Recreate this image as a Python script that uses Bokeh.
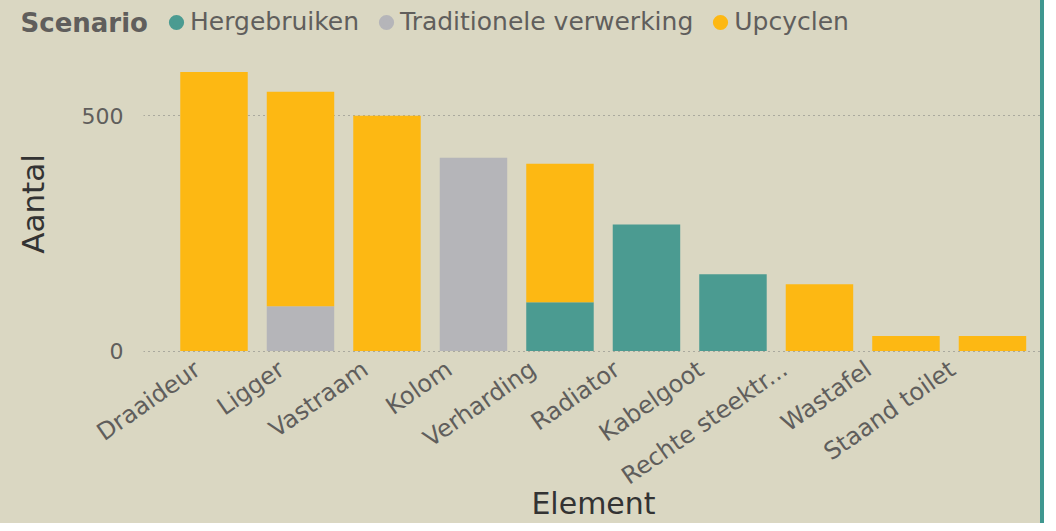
from bokeh.plotting import figure
from bokeh.layouts import column
from bokeh.models import (ColumnDataSource, Range1d, FixedTicker, Legend, LegendItem, Label)
from bokeh.embed import file_html
from bokeh.resources import INLINE

# ---- data ----
elements = ["Draaideur", "Ligger", "Vastraam", "Kolom", "Verharding", "Radiator",
            "Kabelgoot", "Rechte steektrap", "Wastafel", "Staand toilet"]
tick_labels = ["Draaideur", "Ligger", "Vastraam", "Kolom", "Verharding", "Radiator",
               "Kabelgoot", "Rechte steektr...", "Wastafel", "Staand toilet"]
scenarios = ["Hergebruiken", "Traditionele verwerking", "Upcyclen"]
hergebruiken = [0, 0, 0, 0, 104, 269, 163, 0, 0, 0]
traditioneel = [0, 95, 0, 411, 0, 0, 0, 0, 0, 0]
upcyclen = [593, 456, 500, 0, 294, 0, 0, 142, 32, 32]
y_ticks = [0, 500]

colors = ["#4b9b91", "#b5b5b9", "#fdb813"]
BG = "#dad7c2"
FONT = "DejaVu Sans"
STYLE = {"border-right": "4px solid #3f9790", "background-color": BG}

xs = list(range(len(elements)))
src = ColumnDataSource(dict(x=xs, el=elements, her=hergebruiken, trad=traditioneel, up=upcyclen))

# ---------------- legend strip ----------------
lg = figure(width=1044, height=55, output_backend="svg", toolbar_location=None,
            x_range=Range1d(0, 1044), y_range=Range1d(0, 55),
            x_axis_location=None, y_axis_location=None,
            min_border=0, min_border_left=0, min_border_right=0,
            min_border_top=0, min_border_bottom=0, styles=STYLE)
lg.frame_align = False
lg.background_fill_color = BG
lg.border_fill_color = BG
lg.outline_line_color = None
lg.xgrid.grid_line_color = None
lg.ygrid.grid_line_color = None

# legend proxies (NaN positions: nothing drawn in the strip itself)
nan = float("nan")
dummy = [lg.scatter(x=[nan], y=[nan], marker="circle", fill_color=c, line_color=c,
                    line_width=4) for c in colors]
legend = Legend(items=[LegendItem(label=s, renderers=[r]) for s, r in zip(scenarios, dummy)],
                orientation="horizontal", location=(162, 19))
legend.background_fill_alpha = 0
legend.border_line_color = None
legend.padding = 0
legend.margin = 0
legend.spacing = 13
legend.label_standoff = 0
legend.glyph_width = 28
legend.glyph_height = 28
legend.label_text_font = FONT
legend.label_text_font_size = "25px"
legend.label_text_color = "#605e5c"
lg.add_layout(legend, "center")
lg.add_layout(Label(x=20, y=33, x_units="screen", y_units="screen", text="Scenario",
                    text_font=FONT, text_font_size="26px", text_font_style="bold",
                    text_color="#605e5c", text_baseline="middle"))

# ---------------- main chart ----------------
p = figure(width=1044, height=468, output_backend="svg", toolbar_location=None,
           x_range=Range1d(-0.815, 9.59), y_range=Range1d(-3, 628),
           min_border_left=143, min_border_right=1, min_border_top=0, min_border_bottom=170,
           styles=STYLE)
p.frame_align = False
p.background_fill_color = BG
p.border_fill_color = BG
p.outline_line_color = None

p.vbar_stack(["her", "trad", "up"], x="x", width=0.78, source=src,
             color=colors, line_color=None)

# x axis: rotated labels (label anchors spaced like the reference)
label_pos = [round(-0.19 + 0.97 * i, 3) for i in xs]
p.xaxis.ticker = FixedTicker(ticks=label_pos)
p.xaxis.major_label_overrides = {pos: t for pos, t in zip(label_pos, tick_labels)}
p.xaxis.major_label_orientation = 0.61
p.yaxis.ticker = FixedTicker(ticks=y_ticks)
for ax in (p.xaxis[0], p.yaxis[0]):
    ax.axis_line_color = None
    ax.major_tick_line_color = None
    ax.minor_tick_line_color = None
    ax.major_label_text_font = FONT
    ax.major_label_text_color = "#605e5c"
    ax.axis_label_text_font = FONT
    ax.axis_label_text_font_style = "normal"
    ax.axis_label_text_color = "#333333"
p.xaxis.major_label_text_font_size = "24px"
p.yaxis.major_label_text_font_size = "22px"
p.xaxis.major_label_standoff = 8
p.yaxis.major_label_standoff = 14
p.yaxis.axis_label = "Aantal"
p.yaxis.axis_label_text_font_size = "31px"
p.yaxis.axis_label_standoff = 28
p.xaxis.axis_label = "Element"
p.xaxis.axis_label_text_font_size = "30px"
p.xaxis.axis_label_standoff = -19

p.xgrid.grid_line_color = None
p.ygrid.ticker = FixedTicker(ticks=y_ticks)
p.ygrid.grid_line_color = "#7a7a7a"
p.ygrid.grid_line_dash = "1 4"
p.ygrid.grid_line_width = 1

layout = column(lg, p, spacing=0, styles={"background-color": BG})
html = file_html(layout, INLINE)
html = html.replace("<body>", '<body style="background:%s">' % BG, 1)
open("out.html", "w").write(html)
